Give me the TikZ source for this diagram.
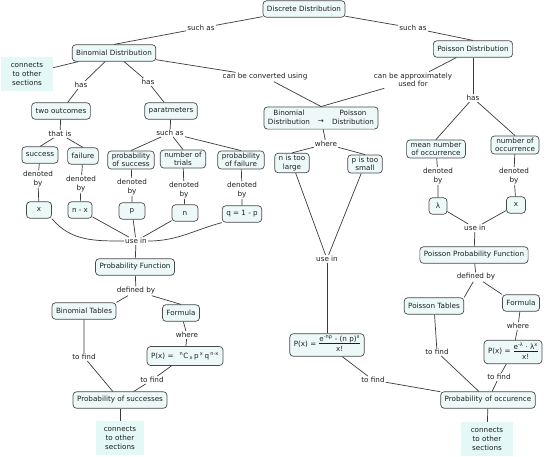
\documentclass[tikz,border=0pt]{standalone}
\usepackage{fontspec}
\setmainfont{DejaVu Sans}
\definecolor{boxfill}{HTML}{EDF9F9}
\definecolor{boxline}{HTML}{4A4A4A}
\definecolor{linecol}{HTML}{3A3A3A}
\definecolor{cnxfill}{HTML}{E4F8F8}
\definecolor{txt}{HTML}{1E1E1E}
\tikzset{
  box/.style={draw=boxline, fill=boxfill, rounded corners=3.5pt, line width=0.7pt,
    inner xsep=4pt, inner ysep=2pt, minimum height=16.5pt, align=center, text=txt},
  lbl/.style={inner sep=1pt, align=center, text=txt},
  cnx/.style={fill=cnxfill, align=center, text=txt, inner sep=3pt, minimum width=52pt, minimum height=34pt},
  link/.style={draw=linecol, line width=0.7pt},
}
\begin{document}
\begin{tikzpicture}[x=1pt,y=-1pt, font=\fontsize{7.2}{8.6}\selectfont]
\useasboundingbox (0,0) rectangle (548,456);
% nodes
\node[box] (disc) at (304,9) {Discrete Distribution};
\node[box] (bin) at (114,53) {Binomial Distribution};
\node[box] (poi) at (473,49) {Poisson Distribution};
\node[cnx] (cnx1) at (27,74) {connects\\to other\\sections};
\node[lbl] (l1) at (201,28) {such as};
\node[lbl] (l2) at (413,28) {such as};
\node[lbl] (l3) at (81,85) {has};
\node[lbl] (l4) at (148,82) {has};
\node[lbl] (l5) at (265,77) {can be converted using};
\node[lbl] (l6) at (413,80) {can be approximately\\used for};
\node[lbl] (l7) at (473,98) {has};
\node[box] (two) at (61,111) {two outcomes};
\node[box] (par) at (171,111) {paratmeters};
\node[box, inner ysep=2.5pt] (bp) at (321,118) {\begin{tabular}{@{}c@{\hspace{8pt}}c@{\hspace{8pt}}c@{}}Binomial & & Poisson\\ Distribution & \raisebox{1pt}{→} & Distribution\end{tabular}};
\node[lbl] (l8) at (60,134) {that is};
\node[lbl] (l9) at (170,133) {such as};
\node[lbl] (l10) at (326,144) {where};
\node[box] (succ) at (40,155) {success};
\node[box] (fail) at (83,156) {failure};
\node[box] (ps) at (131,160) {probability\\of success};
\node[box] (nt) at (183,159) {number of\\trials};
\node[box] (pf) at (241,160) {probability\\of failure};
\node[box] (nl) at (292,163) {n is too\\large};
\node[box] (psm) at (365,164) {p is too\\small};
\node[box] (mno) at (436,149) {mean number\\of occurrence};
\node[box] (noo) at (515,145) {number of\\occurrence};
\node[lbl] (d1) at (38,179) {denoted\\by};
\node[lbl] (d2) at (81,184) {denoted\\by};
\node[lbl] (d3) at (132,187) {denoted\\by};
\node[lbl] (d4) at (184,190) {denoted\\by};
\node[lbl] (d5) at (242,190) {denoted\\by};
\node[lbl] (d6) at (438,176) {denoted\\by};
\node[lbl] (d7) at (514,176) {denoted\\by};
\node[box, minimum width=25pt] (vx) at (39,210) {x};
\node[box] (vnx) at (80,210) {n - x};
\node[box, minimum width=26pt] (vp) at (132,211) {p};
\node[box, minimum width=26pt] (vn) at (185,213) {n};
\node[box] (vq) at (242,214) {q = 1 - p};
\node[box, minimum width=18pt, inner xsep=2pt] (vl) at (438,206) {λ};
\node[box, minimum width=19pt, inner xsep=2pt] (vx2) at (516,205) {x};
\node[lbl] (u1) at (136,241) {use in};
\node[lbl] (u2) at (327,259) {use in};
\node[lbl] (u3) at (475,228) {use in};
\node[box] (pfun) at (135,267) {Probability Function};
\node[box] (ppf) at (474,255) {Poisson Probability Function};
\node[lbl] (df1) at (136,291) {defined by};
\node[lbl] (df2) at (476,277) {defined by};
\node[box] (bt) at (84,311) {Binomial Tables};
\node[box] (fo1) at (181,313) {Formula};
\node[box] (pt) at (434,306) {Poisson Tables};
\node[box] (fo2) at (521,303) {Formula};
\node[lbl] (w1) at (187,335) {where};
\node[lbl] (w2) at (518,326) {where};
\node[box, minimum height=19pt] (f1) at (185,356) {P(x) =\hspace{6pt}\textsuperscript{n}C\,\textsubscript{x}\,p\,\textsuperscript{x}\,q\,\textsuperscript{n-x}};
\node[box, inner ysep=2pt] (f2) at (327,345) {P(x) =\hspace{3pt}\begin{tabular}{@{}c@{}}e\textsuperscript{-np} - (n p)\textsuperscript{x}\\[-1pt]\hline\rule{0pt}{8pt}x!\end{tabular}};
\node[box, inner ysep=2pt] (f3) at (513,352) {P(x) =\hspace{3pt}\begin{tabular}{@{}c@{}}e\textsuperscript{-λ} · λ\textsuperscript{x}\\[-1pt]\hline\rule{0pt}{8pt}x!\end{tabular}};
\node[lbl] (t1) at (84,357) {to find};
\node[lbl] (t2) at (152,380) {to find};
\node[lbl] (t3) at (373,380) {to find};
\node[lbl] (t4) at (437,352) {to find};
\node[lbl] (t5) at (499,377) {to find};
\node[box] (pos) at (120,400) {Probability of successes};
\node[box] (poc) at (488,400) {Probability of occurence};
\node[cnx, minimum width=48pt, minimum height=34pt] (cnx2) at (120,438) {connects\\to other\\sections};
\node[cnx, minimum width=52pt, minimum height=34pt] (cnx3) at (487,439) {connects\\to other\\sections};
% connectors
\draw[link] (disc) -- (l1) -- (bin.north);
\draw[link] (disc) -- (l2) -- (poi.north);
\draw[link] (bin) -- (cnx1);
\draw[link] (bin) -- (l3) -- (two);
\draw[link] (bin) -- (l4) -- (par);
\draw[link] (bin) -- (l5) -- (bp.north);
\draw[link] (poi) -- (l6) -- (bp.north);
\draw[link] (poi) -- (l7);
\draw[link] (l7) -- (mno.north);
\draw[link] (l7) -- (noo.north);
\draw[link] (two) -- (l8);
\draw[link] (l8) -- (succ.north);
\draw[link] (l8) -- (fail.north);
\draw[link] (par) -- (l9);
\draw[link] (l9) -- (ps.north);
\draw[link] (l9) -- (nt.north);
\draw[link] (l9) -- (pf.north);
\draw[link] (bp) -- (l10);
\draw[link] (l10) -- (nl.north);
\draw[link] (l10) -- (psm.north);
\draw[link] (succ) -- (d1) -- (vx);
\draw[link] (fail) -- (d2) -- (vnx);
\draw[link] (ps) -- (d3) -- (vp);
\draw[link] (nt) -- (d4) -- (vn);
\draw[link] (pf) -- (d5) -- (vq);
\draw[link] (mno) -- (d6) -- (vl);
\draw[link] (noo) -- (d7) -- (vx2);
\draw[link] (vx.south east) to[out=-50,in=180] (u1.west);
\draw[link] (vnx) -- (u1);
\draw[link] (vp) -- (u1);
\draw[link] (vn) -- (u1);
\draw[link] (vq.south west) to[out=195,in=0] (u1.east);
\draw[link] (u1) -- (pfun);
\draw[link] (vl) -- (u3);
\draw[link] (vx2) -- (u3);
\draw[link] (u3) -- (ppf);
\draw[link] (nl) -- (u2);
\draw[link] (psm) -- (u2);
\draw[link] (u2) -- (f2);
\draw[link] (pfun) -- (df1);
\draw[link] (df1) -- (bt.north east);
\draw[link] (df1) -- (fo1.north);
\draw[link] (ppf) -- (df2);
\draw[link] (df2) -- (pt.north east);
\draw[link] (df2) -- (fo2.north west);
\draw[link] (fo1) -- (w1) -- (f1);
\draw[link] (fo2) -- (w2) -- (f3);
\draw[link] (bt) -- (t1) -- (pos);
\draw[link] (f1) -- (t2) -- (pos);
\draw[link] (f2) -- (t3) -- (poc);
\draw[link] (pt) -- (t4) -- (poc);
\draw[link] (f3) -- (t5) -- (poc);
\draw[link] (pos) -- (cnx2);
\draw[link] (poc) -- (cnx3);
\end{tikzpicture}
\end{document}
